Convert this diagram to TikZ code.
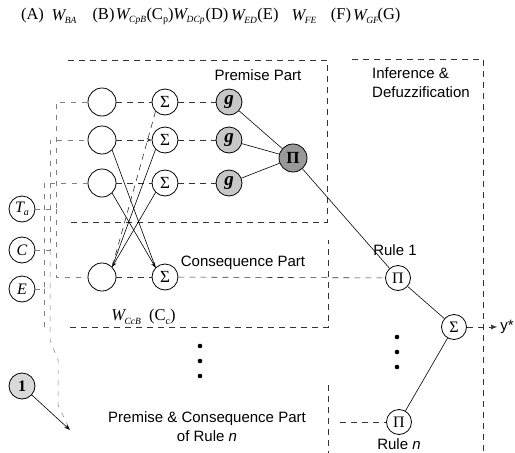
\documentclass[tikz,border=0pt]{standalone}
\usepackage{fontspec}
\setmainfont{Liberation Serif}
\setsansfont{Liberation Sans}
\usetikzlibrary{arrows.meta}
\newcommand{\Wsb}[1]{{\itshape W}\kern-0.5pt\raisebox{-0.4ex}{\fontsize{9.5}{9.5}\selectfont\itshape #1}}
\newcommand{\lowsb}[1]{\raisebox{-0.4ex}{\fontsize{10}{10}\selectfont #1}}
\begin{document}
\begin{tikzpicture}[x=1pt,y=-1pt,
  every node/.style={inner sep=0pt},
  neuron/.style={circle,draw,line width=0.8pt,minimum size=28pt},
  sig/.style={circle,draw,line width=0.8pt,minimum size=26pt,font=\fontsize{17}{17}\selectfont},
  gn/.style={circle,draw,line width=0.8pt,minimum size=26pt,fill=black!22,font=\fontsize{19}{19}\selectfont\bfseries\itshape},
  pn/.style={circle,draw,line width=0.8pt,minimum size=28pt,fill=black!40,font=\fontsize{17}{17}\selectfont\bfseries},
  inp/.style={circle,draw,line width=0.8pt,minimum size=26pt,font=\fontsize{16}{16}\selectfont\itshape},
  rp/.style={circle,draw,line width=0.8pt,minimum size=25pt,font=\fontsize{16}{16}\selectfont},
  dotn/.style={circle,fill,minimum size=4.6pt},
  dl/.style={dash pattern=on 6pt off 5pt,line width=0.6pt,black!80},
  fl/.style={dash pattern=on 5pt off 6pt,line width=0.5pt,black!50},
  sl/.style={line width=0.6pt},
  lbl/.style={font=\sffamily\fontsize{15}{19}\selectfont},
  hd/.style={font=\fontsize{16.5}{16.5}\selectfont}
]
\useasboundingbox (0,0) rectangle (515,453);

% header
\node[hd] (hA) at (32.5,16) {(A)};
\node[hd] (hWBA) at (64,17) {\Wsb{BA}};
\node[hd] (hB) at (103.5,16) {(B)};
\node[hd] (hWCpB) at (131,17) {\Wsb{CpB}};
\node[hd] (hCp) at (160,16) {(C\lowsb{p})};
\node[hd] (hWDCp) at (189,17) {\Wsb{DCp}};
\node[hd] (hD) at (217,16) {(D)};
\node[hd] (hWED) at (244,17) {\Wsb{ED}};
\node[hd] (hE) at (268,16) {(E)};
\node[hd] (hWFE) at (304,17) {\Wsb{FE}};
\node[hd] (hF) at (341,16) {(F)};
\node[hd] (hWGF) at (366,17) {\Wsb{GF}};
\node[hd] (hG) at (389,16) {(G)};

% boxes
\draw[dl] (68,60) -- (327,60) -- (327,222) -- (70,222);
\draw[dl] (70,327) -- (328,327) -- (328,240);
\draw[dl] (328,385) -- (328,453);
\draw[dl] (352,59) -- (483,59) -- (483,453);

% inputs
\node[inp] (Ta) at (22,209) {T\lowsb{\itshape a}};
\node[inp] (Cin) at (22,250) {C};
\node[inp] (Ein) at (22,289) {E};
\node[inp,fill=black!15,font=\fontsize{16}{16}\selectfont\bfseries] (one) at (22,386) {1};

% layer B
\node[neuron] (B1) at (102,102) {};
\node[neuron] (B2) at (102,140) {};
\node[neuron] (B3) at (102,183) {};
\node[neuron] (Bc) at (102,277) {};
% layer C
\node[sig] (S1) at (165,102) {Σ};
\node[sig] (S2) at (165,140) {Σ};
\node[sig] (S3) at (165,183) {Σ};
\node[sig] (Sc) at (165,277) {Σ};
% layer D
\node[gn] (g1) at (229,102) {g};
\node[gn] (g2) at (229,140) {g};
\node[gn] (g3) at (229,183) {g};
% layer E
\node[pn] (P) at (293,158) {Π};
% rules and output
\node[rp] (R1) at (398,278) {Π};
\node[rp] (Rn) at (399,422) {Π};
\node[rp] (So) at (454,327) {Σ};
\node[lbl] (ystar) at (507,327) {y*};

% coordinates
\coordinate (rn) at (70,430);
\coordinate (rnl) at (340,422);
\coordinate (yend) at (497,327);

% input bus (faint)
\draw[fl] (Ta.east) -| (56,102) -- (B1.west);
\draw[fl] (Cin.east) -| (50,140) -- (B2.west);
\draw[fl] (Ein.east) -| (44,183) -- (B3.west);
\draw[fl] (56,209) -- (56,277) -- (Bc.west);
\draw[fl] (50,250) -- (50,340) -- (58,360) -- (58,405) -- (rn);
\draw[fl] (44,289) -- (44,330);
\draw[sl,-{Stealth[length=6pt,width=4pt]}] (one) -- (rn);

% layer links
\draw[dl] (B1) -- (S1);
\draw[dl,-{Stealth[length=5pt,width=4pt]}] (B2) -- (S2);
\draw[dl] (B3) -- (S3);
\draw[dl] (S1) -- (g1);
\draw[dl] (S2) -- (g2);
\draw[dl] (S3) -- (g3);
\draw[dl] (Bc) -- (Sc);
\draw[dl] (Sc) -- (R1);
\draw[dl] (rnl) -- (Rn);

% crossing links
\draw[sl] (B2.south east) -- (Sc.north west);
\draw[sl,-{Stealth[length=5pt,width=4pt]}] (B3.south east) -- (Sc.north west);
\draw[sl] (S2.south west) -- (Bc.north east);
\draw[sl,-{Stealth[length=5pt,width=4pt]}] (S3.south west) -- (Bc.north east);
\draw[dl] (S1.south west) -- (Bc.north east);

% premise, inference
\draw[sl] (g1) -- (P);
\draw[sl] (g2) -- (P);
\draw[sl] (g3) -- (P);
\draw[sl] (P) -- (R1);
\draw[sl] (R1) -- (So);
\draw[sl] (Rn) -- (So);
\draw[dl,-{Latex[length=6pt,width=5pt]}] (So) -- (yend);

% dots
\node[dotn] (d1) at (200,346) {};
\node[dotn] (d2) at (200,361) {};
\node[dotn] (d3) at (200,376) {};
\node[dotn] (d4) at (397,337) {};
\node[dotn] (d5) at (397,352) {};
\node[dotn] (d6) at (397,367) {};

% labels
\node[lbl] (tprem) at (258,75) {Premise Part};
\node[lbl,align=left,anchor=west] (tinf) at (372,83) {Inference \&\\Defuzzification};
\node[lbl] (tcons) at (243,263) {Consequence Part};
\node[lbl] (tr1) at (395,250) {Rule 1};
\node[lbl] (trn) at (399,444) {Rule \textit{n}};
\node[lbl,align=center] (tpc) at (207,427) {Premise \& Consequence Part\\of Rule \textit{n}};
\node[hd] (twc) at (143.5,317) {\Wsb{CcB}\ \ (C\lowsb{c})};
\end{tikzpicture}
\end{document}
